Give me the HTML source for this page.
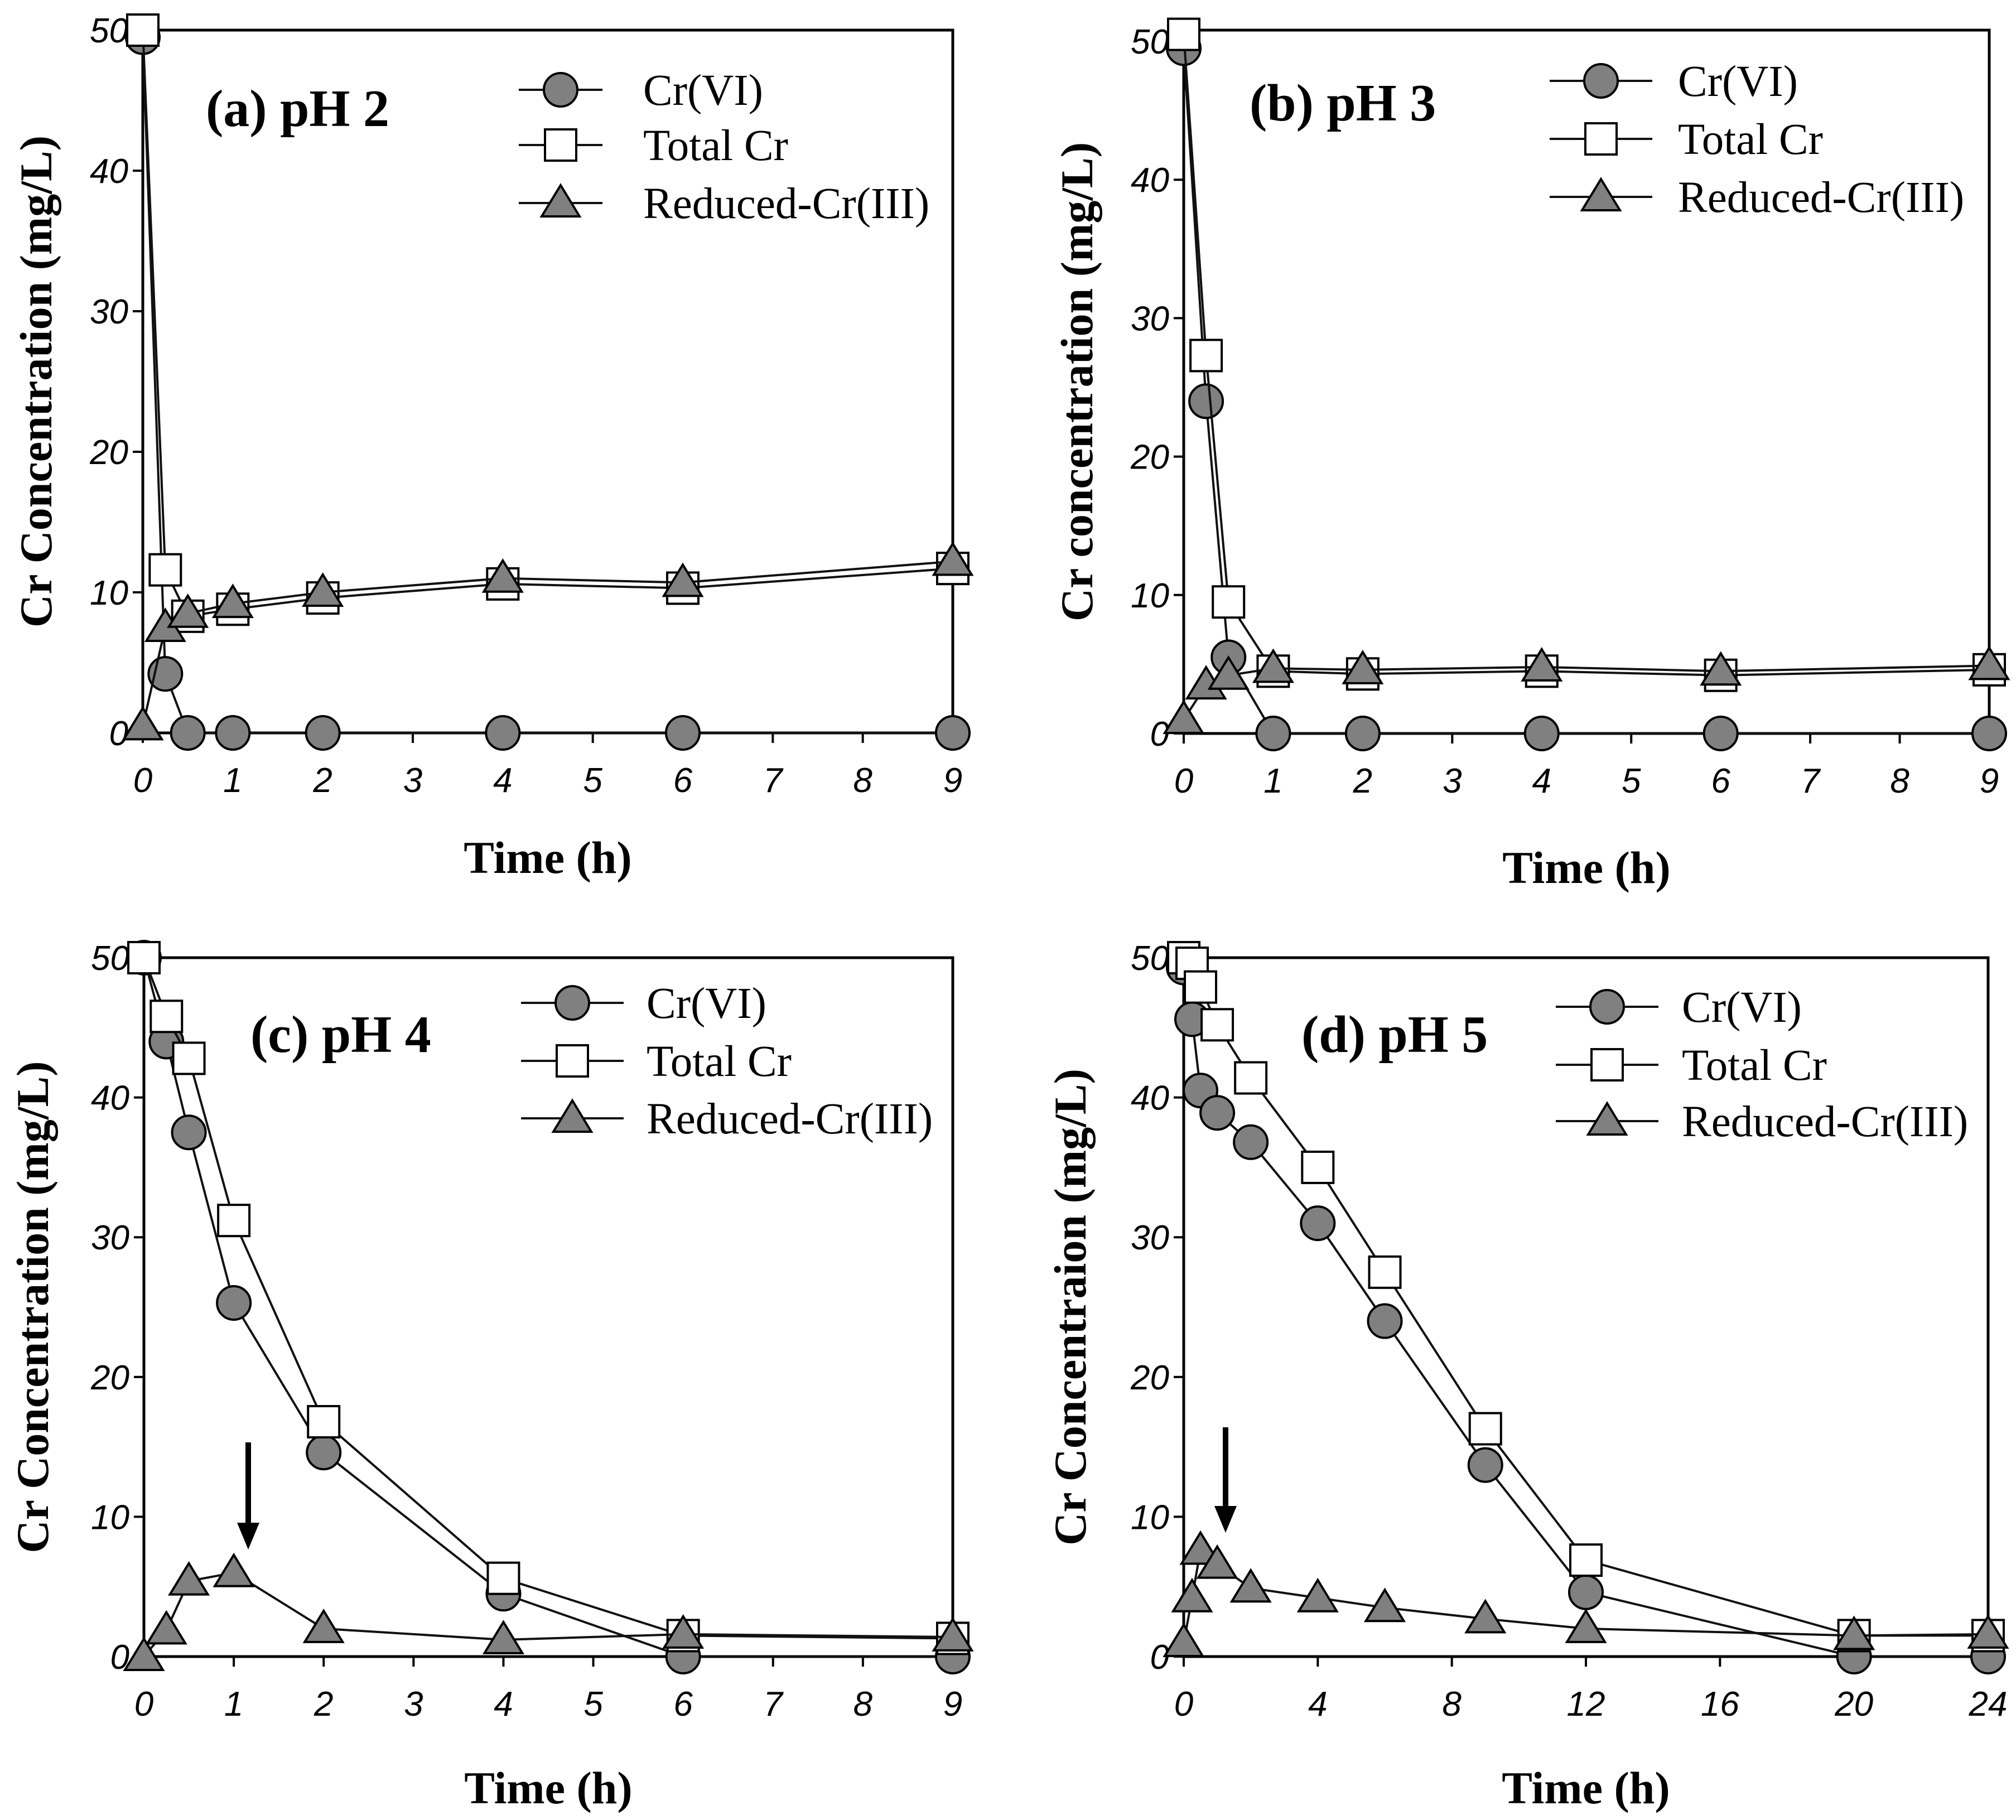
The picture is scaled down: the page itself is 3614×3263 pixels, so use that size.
<!DOCTYPE html>
<html><head><meta charset="utf-8"><style>
html,body{margin:0;padding:0;background:#fff;}
svg{display:block;}
.tick{font-family:"Liberation Sans",sans-serif;font-style:italic;font-size:62px;fill:#000;}
.ttl{font-family:"Liberation Serif",serif;font-weight:bold;font-size:82px;fill:#000;}
.leg{font-family:"Liberation Serif",serif;font-size:79px;fill:#000;}
.plab{font-family:"Liberation Serif",serif;font-weight:bold;font-size:94px;fill:#000;}
</style></head><body>
<svg id="fig" width="3614" height="3263" viewBox="0 0 3614 3263" xmlns="http://www.w3.org/2000/svg"></svg>
<script>
// Panel (a) pH 2
const timeA = [0,0.25,0.5,1,2,4,6,9];
const cr6A = [49.5,4.2,0,0,0,0,0,0];
const totA = [50,11.6,8.3,8.8,9.6,10.6,10.3,11.7];
const redA = [0.5,7.5,8.5,9.2,10,11,10.7,12.2];
// Panel (b) pH 3
const timeB = [0,0.25,0.5,1,2,4,6,9];
const cr6B = [49.5,24,5.5,0,0,0,0,0];
const totB = [50.5,27.3,9.5,4.5,4.3,4.5,4.2,4.6];
const redB = [1,3.5,4.2,4.7,4.6,4.8,4.5,4.9];
// Panel (c) pH 4
const timeC = [0,0.25,0.5,1,2,4,6,9];
const cr6C = [50,44,37.5,25.3,14.6,4.5,0,0];
const totC = [50,45.8,42.8,31.2,16.8,5.6,1.5,1.3];
const redC = [0,1.9,5.4,6,2,1.2,1.6,1.4];
// Panel (d) pH 5
const timeD = [0,0.25,0.5,1,2,4,6,9,12,20,24];
const cr6D = [49.3,45.6,40.5,38.9,36.8,31,24,13.7,4.6,0,0];
const totD = [50,49.6,47.9,45.2,41.4,35,27.5,16.3,6.9,1.5,1.5];
const redD = [1,4.2,7.6,6.6,4.9,4.2,3.5,2.7,2,1.5,1.6];
const xTicksA = [0,1,2,3,4,5,6,7,8,9];
const xTicksD = [0,4,8,12,16,20,24];
const yTicks = [0,10,20,30,40,50];
const legendLabels = ["Cr(VI)","Total Cr","Reduced-Cr(III)"];

const NS = "http://www.w3.org/2000/svg";
const svg = document.getElementById('fig');
function mk(tag, attrs, parent){
  const e = document.createElementNS(NS, tag);
  for (const k in attrs) e.setAttribute(k, attrs[k]);
  (parent||svg).appendChild(e);
  return e;
}
function marker(g, kind, x, y){
  let e;
  if (kind===0){ e = mk('circle',{cx:x,cy:y,r:30,fill:'#808080',stroke:'#000','stroke-width':4},g); }
  else if (kind===1){ e = mk('rect',{x:x-28,y:y-28,width:56,height:56,fill:'#fff',stroke:'#000','stroke-width':4},g); }
  else { e = mk('polygon',{points:`${x},${y-32} ${x+34},${y+24} ${x-34},${y+24}`,fill:'#808080',stroke:'#000','stroke-width':4},g); }
  return e;
}
function panel(p){
  const g = mk('g',{});
  
  
  const sx = v => p.x0 + (v - 0)/(p.xmax) * (p.x1 - p.x0);
  const sy = v => p.y0 - v/50 * (p.y0 - p.y50);
  const fr = mk('rect',{x:p.x0,y:p.top,width:p.x1-p.x0,height:p.y0-p.top,fill:'none',stroke:'#000','stroke-width':5},g);
  
  
  p.xticks.forEach(t=>{
    mk('line',{x1:sx(t),y1:p.y0,x2:sx(t),y2:p.y0+18,stroke:'#000','stroke-width':4},g);
    const tx = mk('text',{x:sx(t),y:p.y0+106,'text-anchor':'middle',class:'tick'},g);
    tx.textContent = t;
    
    
  });
  yTicks.forEach(t=>{
    mk('line',{x1:p.x0-18,y1:sy(t),x2:p.x0,y2:sy(t),stroke:'#000','stroke-width':4},g);
    const tx = mk('text',{x:p.x0-26,y:sy(t)+22,'text-anchor':'end',class:'tick'},g);
    tx.textContent = t;
    
    
  });
  const xt = mk('text',{x:(p.x0+p.x1)/2,y:p.xtY,'text-anchor':'middle',class:'ttl'},g);
  xt.textContent = 'Time (h)';
  
  
  const yt = mk('text',{x:0,y:0,'text-anchor':'middle',class:'ttl',transform:`translate(${p.ytX},${(p.top+p.y0)/2}) rotate(-90)`},g);
  yt.textContent = p.ytitle;
  
  
  const pl = mk('text',{x:p.labX,y:p.labY,class:'plab'},g);
  pl.textContent = p.label;
  
  
  if (p.arrow){
    const a = mk('g',{},g);
    
    
    mk('line',{x1:p.arrow[0],y1:p.arrow[1],x2:p.arrow[0],y2:p.arrow[2]-40,stroke:'#000','stroke-width':10},a);
    mk('polygon',{points:`${p.arrow[0]-20},${p.arrow[2]-48} ${p.arrow[0]+20},${p.arrow[2]-48} ${p.arrow[0]},${p.arrow[2]}`,fill:'#000'},a);
  }
  const names = ['series-cr6','series-total-cr','series-reduced-cr3'];
  p.series.forEach((vals,k)=>{
    const sg = mk('g',{},g);
    
    
    const pts = p.t.map((t,i)=>sx(t)+','+sy(vals[i])).join(' ');
    mk('polyline',{points:pts,fill:'none',stroke:'#111','stroke-width':4},sg);
    p.t.forEach((t,i)=>{
      const m = marker(sg,k,sx(t),sy(vals[i]));
      
      
    });
  });
  const lg = mk('g',{},g);
  
  
  legendLabels.forEach((lab,k)=>{
    const y = p.legY[k];
    const eg = mk('g',{},lg);
    
    
    mk('line',{x1:p.legX1,y1:y,x2:p.legX2,y2:y,stroke:'#111','stroke-width':4},eg);
    marker(eg,k,(p.legX1+p.legX2)/2,y);
    const tx = mk('text',{x:p.legT,y:y+27,class:'leg'},eg);
    tx.textContent = lab;
  });
}
panel({id:'a',x0:256,x1:1708,xmax:9,y0:1314,y50:54,top:54,t:timeA,series:[cr6A,totA,redA],xticks:xTicksA,
  xtY:1565,ytX:92,ytitle:'Cr Concentration (mg/L)',label:'(a) pH 2',labX:369,labY:226,
  legX1:930,legX2:1080,legT:1153,legY:[161,260,364]});
panel({id:'b',x0:2122,x1:3566,xmax:9,y0:1315,y50:74,top:54,t:timeB,series:[cr6B,totB,redB],xticks:xTicksA,
  xtY:1583,ytX:1958,ytitle:'Cr concentration (mg/L)',label:'(b) pH 3',labX:2240,labY:216,
  legX1:2778,legX2:2962,legT:3008,legY:[145,249,353]});
panel({id:'c',x0:258,x1:1708,xmax:9,y0:2970,y50:1717,top:1717,t:timeC,series:[cr6C,totC,redC],xticks:xTicksA,
  xtY:3233,ytX:86,ytitle:'Cr Concentration (mg/L)',label:'(c) pH 4',labX:449,labY:1886,
  legX1:934,legX2:1118,legT:1159,legY:[1798,1902,2005],arrow:[445,2586,2778]});
panel({id:'d',x0:2122,x1:3564,xmax:24,y0:2970,y50:1717,top:1717,t:timeD,series:[cr6D,totD,redD],xticks:xTicksD,
  xtY:3233,ytX:1946,ytitle:'Cr Concentraion (mg/L)',label:'(d) pH 5',labX:2333,labY:1886,
  legX1:2789,legX2:2973,legT:3015,legY:[1805,1909,2010],arrow:[2197,2559,2748]});
</script>
</body></html>
